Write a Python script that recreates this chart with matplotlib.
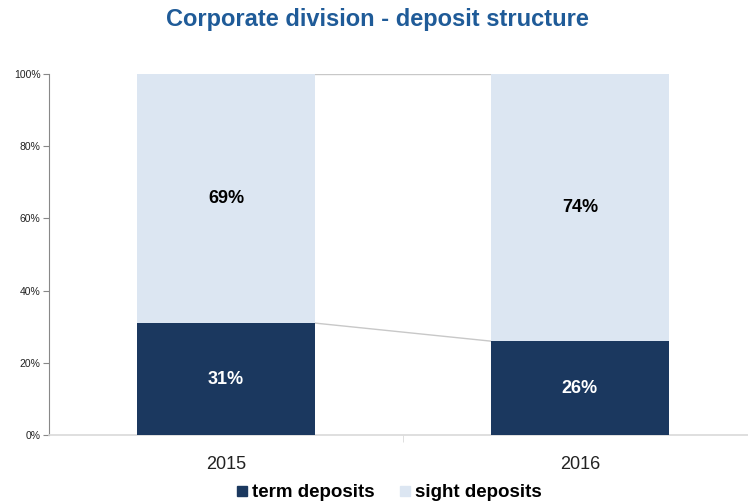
import matplotlib.pyplot as plt
from matplotlib.lines import Line2D

years = ["2015", "2016"]
term = [31, 26]
sight = [69, 74]

DARK = "#1b385f"
LIGHT = "#dce6f2"

plt.rcParams['font.family'] = ['Liberation Sans Narrow', 'Liberation Sans', 'DejaVu Sans']

fig = plt.figure(figsize=(7.48, 5.04), dpi=100)
ax = fig.add_axes([49 / 748, 69 / 504, 699 / 748, 361 / 504])

x = list(range(len(years)))
w = 0.503
ax.bar(x, term, w, color=DARK, label="term deposits", zorder=3)
ax.bar(x, sight, w, bottom=term, color=LIGHT, label="sight deposits", zorder=3)

# series lines joining the bars
for i in range(len(x) - 1):
    ax.plot([x[i] + w / 2, x[i + 1] - w / 2], [term[i], term[i + 1]],
            color="#c8c8c8", lw=1, zorder=2)
    ax.plot([x[i] + w / 2, x[i + 1] - w / 2],
            [term[i] + sight[i], term[i + 1] + sight[i + 1]],
            color="#c8c8c8", lw=1, zorder=2)

for i in x:
    ax.text(i, term[i] / 2, f"{term[i]}%", ha="center", va="center",
            color="white", fontsize=13, fontweight="bold",
            family=['Liberation Sans', 'DejaVu Sans'])
    ax.text(i, term[i] + sight[i] / 2, f"{sight[i]}%", ha="center", va="center",
            color="black", fontsize=13, fontweight="bold",
            family=['Liberation Sans', 'DejaVu Sans'])

ax.set_xlim(-0.5, 1.475)
ax.set_ylim(0, 100)
ax.set_yticks(range(0, 101, 20))
ax.set_yticklabels([f"{v}%" for v in range(0, 101, 20)])
ax.tick_params(axis="y", labelsize=7.5, length=4, color="#888888", pad=2,
               labelcolor="#222222")
ax.set_xticks(x)
ax.set_xticklabels(years, fontsize=13, color="#222222",
                   family=['Liberation Sans', 'DejaVu Sans'])
ax.tick_params(axis="x", length=0, pad=15)
ax.set_xticks([0.5], minor=True)
ax.tick_params(axis="x", which="minor", length=5, color="#d9d9d9")

for s in ("top", "right"):
    ax.spines[s].set_visible(False)
ax.spines["left"].set_color("#888888")
ax.spines["bottom"].set_color("#d9d9d9")
ax.spines["bottom"].set_linewidth(1.2)

fig.text(0.505, 0.962, "Corporate division - deposit structure", ha="center",
         va="center", fontsize=17, fontweight="bold", color="#1f5b98")

handles = [Line2D([], [], ls="", marker="s", ms=7, color=DARK),
           Line2D([], [], ls="", marker="s", ms=7, color=LIGHT)]
fig.legend(handles, ["term deposits", "sight deposits"], loc="center",
           bbox_to_anchor=(0.52, 0.022), ncol=2, frameon=False,
           prop={"size": 13.5, "weight": "bold",
                 "family": ['Liberation Sans', 'DejaVu Sans']},
           handlelength=0.6, handletextpad=0.25, columnspacing=1.3)

fig.savefig("out.png", dpi=100)
